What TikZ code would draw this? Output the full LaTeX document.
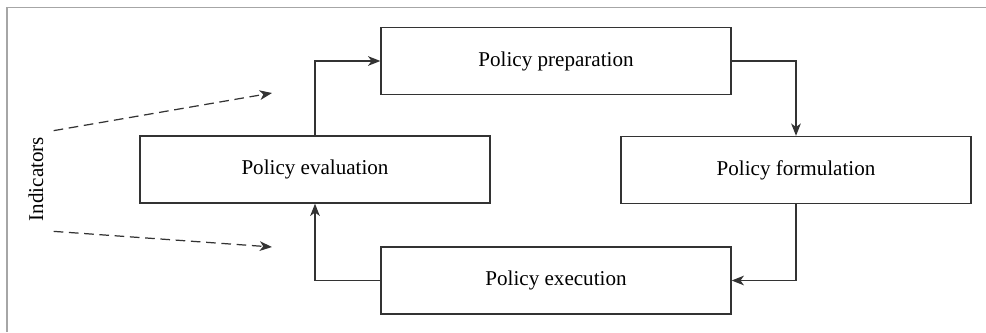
\documentclass[tikz,border=0pt]{standalone}
\usepackage{fontspec}
\setmainfont{Liberation Serif}
\usetikzlibrary{calc}
\usetikzlibrary{arrows.meta}

\begin{document}
\begin{tikzpicture}[x=0.02cm, y=-0.02cm,
    stage/.style={rectangle, draw=black!80, line width=0.8pt, minimum width=7cm, minimum height=1.34cm, font=\fontsize{12}{14}\selectfont},
    flow/.style={draw=black!80, line width=0.7pt, -{Stealth[length=7pt, width=5.5pt, inset=2pt]}},
    hint/.style={flow, dash pattern=on 5.5pt off 3.2pt}]
            \useasboundingbox (0, 0) rectangle (986, 332);
            % frame
            \draw[black!35, line width=0.85pt] (7, 332) -- (7, 7.5) -- (986, 7.5);

            \node[stage] (prep) at (556, 61) {Policy preparation};
            \node[stage] (form) at (796, 170) {Policy formulation};
            \node[stage] (exec) at (556, 280.5) {Policy execution};
            \node[stage] (eval) at (315, 169.5) {Policy evaluation};

            \draw[flow] (prep.east) -| (form.north);
            \draw[flow] (form.south) |- (exec.east);
            \draw[flow] (exec.west) -| (eval.south);
            \draw[flow] (eval.north) |- (prep.west);

            \node[rotate=90, font=\fontsize{12}{14}\selectfont] (ind) at (36, 179) {Indicators};
            \coordinate (up) at (272, 93);
            \coordinate (down) at (272, 247);
            \draw[hint] ($(ind.south east) + (4, 0)$) -- (up);
            \draw[hint] ($(ind.south west) + (4, 4)$) -- (down);
        \end{tikzpicture}
\end{document}
